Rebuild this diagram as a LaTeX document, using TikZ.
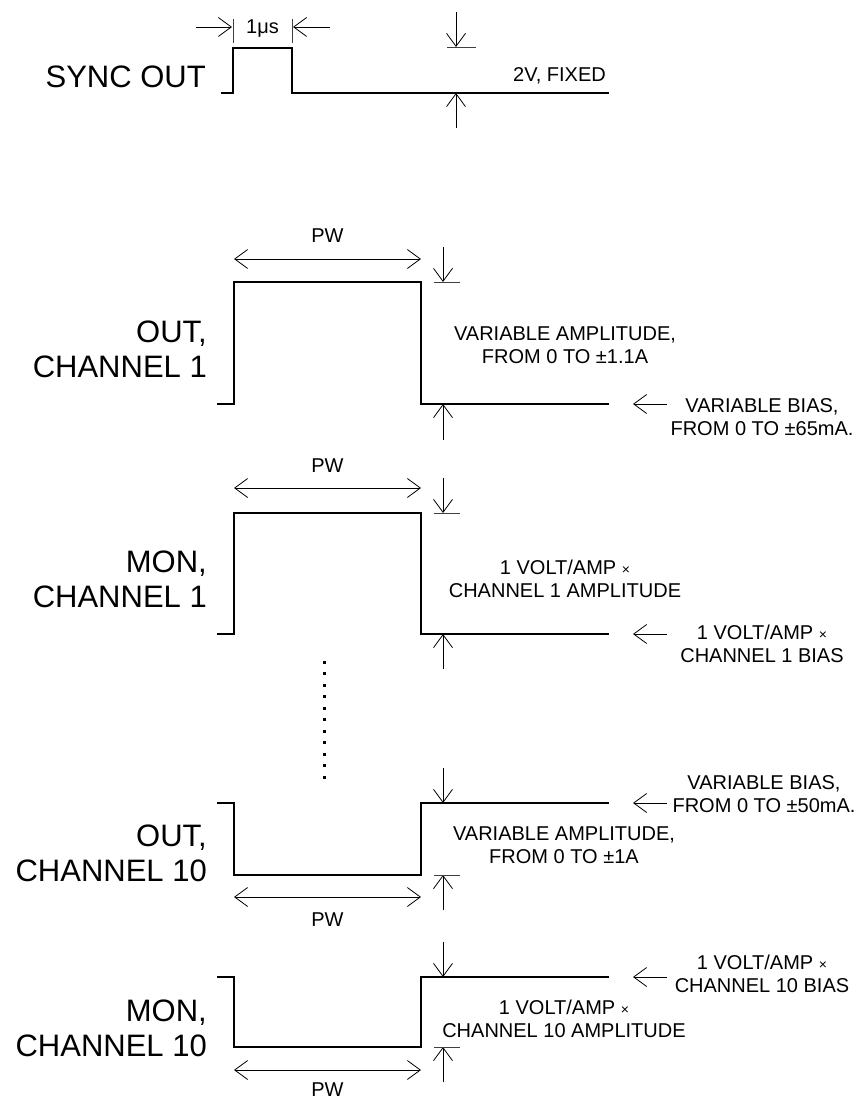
\documentclass[tikz,border=0pt]{standalone}
\usepackage{fontspec}
\setmainfont{Liberation Sans}
\usetikzlibrary{arrows.meta}
\begin{document}
\begin{tikzpicture}[x=1pt,y=-1pt,
  sig/.style={line width=2.6pt, line join=miter},
  dim/.style={line width=0.8pt},
  tickline/.style={line width=0.8pt, black!75},
  ah/.style={-{Straight Barb[length=13pt,width=19pt,line width=0.8pt]}},
  dah/.style={{Straight Barb[length=13pt,width=19pt,line width=0.8pt]}-{Straight Barb[length=13pt,width=19pt,line width=0.8pt]}},
  big/.style={font=\fontsize{31}{35}\selectfont, align=right, anchor=east, inner sep=0pt},
  small/.style={font=\fontsize{20}{23.5}\selectfont, align=center, inner sep=0pt},
  lab/.style={font=\fontsize{20}{23.5}\selectfont, inner sep=0pt}
]
\useasboundingbox (0,0) rectangle (862,1099);
\newcommand{\tms}{{\fontsize{14}{14}\selectfont\raisebox{-0.5pt}{×}}}

% ---------------- SYNC OUT
\node[big] (syncl) at (206,77) {SYNC OUT};
\draw[sig] (221,93) -- (233,93) -- (233,48) -- (292,48) -- (292,93) -- (609,93);
\coordinate (s1a) at (196,27); \coordinate (s1b) at (232,27);
\coordinate (s2a) at (330,27); \coordinate (s2b) at (293,27);
\draw[dim,ah] (s1a) -- (s1b);
\draw[dim,ah] (s2a) -- (s2b);
\draw[tickline] (233,19) -- (233,43);
\draw[tickline] (292,19) -- (292,43);
\node[lab] (us) at (262.5,29) {1μs};
\coordinate (sd0) at (456,12); \coordinate (sd1) at (456,47);
\draw[dim,ah] (sd0) -- (sd1);
\draw[tickline] (447,47) -- (476,47);
\coordinate (su0) at (456,128); \coordinate (su1) at (456,93);
\draw[dim,ah] (su0) -- (su1);
\node[lab, anchor=east] (fixed) at (606,76) {2V, FIXED};

% ---------------- OUT, CHANNEL 1
\node[big] (o1) at (207,349) {OUT,\\CHANNEL 1};
\draw[sig] (217,404) -- (234,404) -- (234,282) -- (421,282) -- (421,404) -- (609,404);
\coordinate (p1a) at (234,259); \coordinate (p1b) at (421,259);
\draw[dim,dah] (p1a) -- (p1b);
\node[lab] (pw1) at (327.5,236) {PW};
\coordinate (o1d0) at (443,247); \coordinate (o1d1) at (443,282);
\draw[dim,ah] (o1d0) -- (o1d1);
\draw[tickline] (434,282) -- (460,282);
\coordinate (o1u0) at (443,440); \coordinate (o1u1) at (443,404);
\draw[dim,ah] (o1u0) -- (o1u1);
\node[small] (o1amp) at (565,345) {VARIABLE AMPLITUDE,\\FROM 0 TO ±1.1A};
\coordinate (o1b0) at (667,404); \coordinate (o1b1) at (633,404);
\draw[dim,ah] (o1b0) -- (o1b1);
\node[small] (o1bias) at (762,417) {VARIABLE BIAS,\\FROM 0 TO ±65mA.};

% ---------------- MON, CHANNEL 1
\node[big] (m1) at (207,579) {MON,\\CHANNEL 1};
\draw[sig] (217,634) -- (234,634) -- (234,513) -- (421,513) -- (421,634) -- (609,634);
\coordinate (p2a) at (234,488); \coordinate (p2b) at (421,488);
\draw[dim,dah] (p2a) -- (p2b);
\node[lab] (pw2) at (327.5,466) {PW};
\coordinate (m1d0) at (443,478); \coordinate (m1d1) at (443,513);
\draw[dim,ah] (m1d0) -- (m1d1);
\draw[tickline] (434,513) -- (460,513);
\coordinate (m1u0) at (443,669); \coordinate (m1u1) at (443,634);
\draw[dim,ah] (m1u0) -- (m1u1);
\node[small] (m1amp) at (565,579) {1 VOLT/AMP \tms\\CHANNEL 1 AMPLITUDE};
\coordinate (m1b0) at (667,634); \coordinate (m1b1) at (633,634);
\draw[dim,ah] (m1b0) -- (m1b1);
\node[small] (m1bias) at (762,644) {1 VOLT/AMP \tms\\CHANNEL 1 BIAS};

% ---------------- dots
\foreach \i in {0,...,10} \fill (322.5,660.5+11.5*\i) rectangle ++(3,3);

% ---------------- OUT, CHANNEL 10
\node[big] (o10) at (207,853) {OUT,\\CHANNEL 10};
\draw[sig] (217,803) -- (234,803) -- (234,875) -- (421,875) -- (421,803) -- (609,803);
\coordinate (p3a) at (234,897); \coordinate (p3b) at (421,897);
\draw[dim,dah] (p3a) -- (p3b);
\node[lab] (pw3) at (327.5,920) {PW};
\coordinate (o10d0) at (443,768); \coordinate (o10d1) at (443,803);
\draw[dim,ah] (o10d0) -- (o10d1);
\coordinate (o10u0) at (443,910); \coordinate (o10u1) at (443,875);
\draw[dim,ah] (o10u0) -- (o10u1);
\draw[tickline] (434,875) -- (460,875);
\node[small] (o10amp) at (564,845) {VARIABLE AMPLITUDE,\\FROM 0 TO ±1A};
\coordinate (o10b0) at (667,803); \coordinate (o10b1) at (633,803);
\draw[dim,ah] (o10b0) -- (o10b1);
\node[small] (o10bias) at (764,794) {VARIABLE BIAS,\\FROM 0 TO ±50mA.};

% ---------------- MON, CHANNEL 10
\node[big] (m10) at (207,1028) {MON,\\CHANNEL 10};
\draw[sig] (217,977) -- (234,977) -- (234,1047) -- (421,1047) -- (421,977) -- (609,977);
\coordinate (p4a) at (234,1070); \coordinate (p4b) at (421,1070);
\draw[dim,dah] (p4a) -- (p4b);
\node[lab] (pw4) at (327.5,1090) {PW};
\coordinate (m10d0) at (443,942); \coordinate (m10d1) at (443,977);
\draw[dim,ah] (m10d0) -- (m10d1);
\coordinate (m10u0) at (443,1082); \coordinate (m10u1) at (443,1047);
\draw[dim,ah] (m10u0) -- (m10u1);
\draw[tickline] (434,1047) -- (460,1047);
\node[small] (m10amp) at (564,1019) {1 VOLT/AMP \tms\\CHANNEL 10 AMPLITUDE};
\coordinate (m10b0) at (667,977); \coordinate (m10b1) at (633,977);
\draw[dim,ah] (m10b0) -- (m10b1);
\node[small] (m10bias) at (762,974) {1 VOLT/AMP \tms\\CHANNEL 10 BIAS};
\end{tikzpicture}
\end{document}
